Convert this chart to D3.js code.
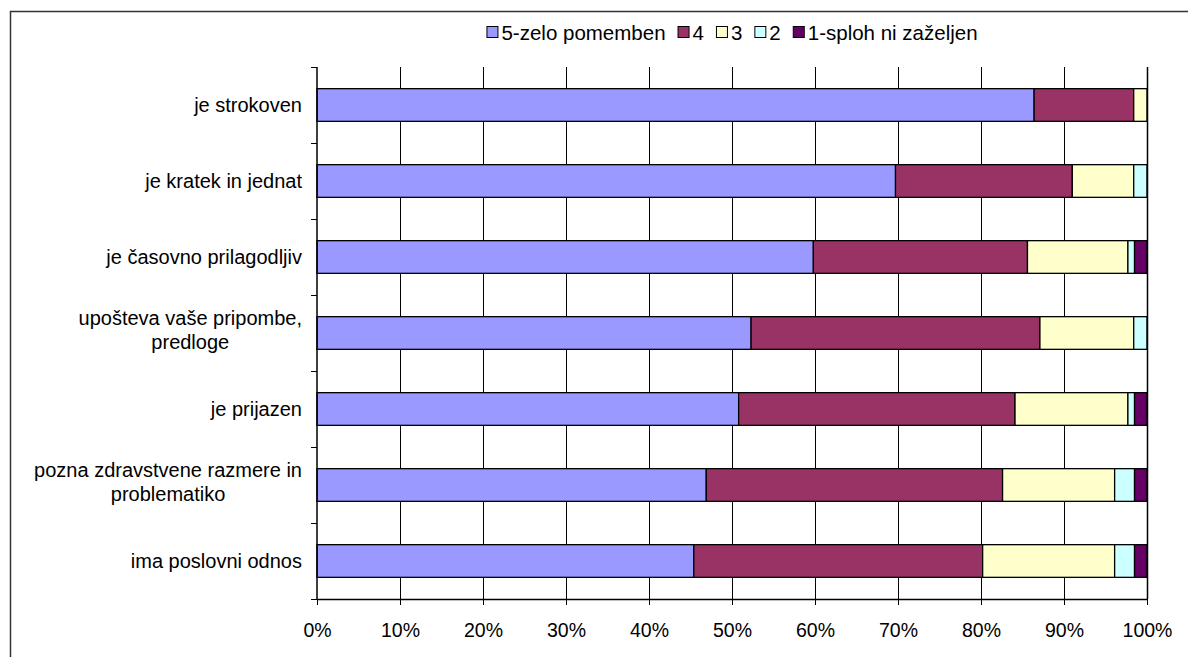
<!DOCTYPE html>
<html>
<head>
<meta charset="utf-8">
<script src="https://cdn.jsdelivr.net/npm/d3@7"></script>
<style>
  html, body { margin: 0; padding: 0; background: #fff; }
  svg { display: block; font-family: "Liberation Sans", Arial, sans-serif; }
</style>
</head>
<body>
<svg id="chart" width="1188" height="657"></svg>
<script>
// Categories, top to bottom
const categories = [
  "je strokoven",
  "je kratek in jednat",
  "je časovno prilagodljiv",
  "upošteva vaše pripombe,\npredloge",
  "je prijazen",
  "pozna zdravstvene razmere in\nproblematiko",
  "ima poslovni odnos"
];

// Series (share of answers, %)
const seriesNames = ["5-zelo pomemben", "4", "3", "2", "1-sploh ni zaželjen"];
const s5 = [86.4, 69.7, 59.8, 52.3, 50.8, 46.9, 45.4];
const s4 = [12.0, 21.3, 25.8, 34.8, 33.3, 35.7, 34.8];
const s3 = [1.6, 7.4, 12.1, 11.3, 13.6, 13.5, 15.9];
const s2 = [0.0, 1.6, 0.8, 1.6, 0.8, 2.4, 2.4];
const s1 = [0.0, 0.0, 1.5, 0.0, 1.5, 1.5, 1.5];
const seriesColors = ["#9999FF", "#993366", "#FFFFCC", "#CCFFFF", "#660066"];

const xTicks = [0, 10, 20, 30, 40, 50, 60, 70, 80, 90, 100];

const rows = categories.map((c, i) => ({
  cat: c, "0": s5[i], "1": s4[i], "2": s3[i], "3": s2[i], "4": s1[i]
}));
const keys = ["0", "1", "2", "3", "4"];

const svg = d3.select("#chart");

// outer chart frame (runs past the right/bottom edge)
svg.append("rect")
  .attr("x", 10.5).attr("y", 11.5)
  .attr("width", 1300).attr("height", 800)
  .attr("fill", "#fff").attr("stroke", "#333").attr("stroke-width", 1.5);

const plot = { left: 317, right: 1147, top: 67, bottom: 599 };

const x = d3.scaleLinear().domain([0, 100]).range([plot.left, plot.right]);
const y = d3.scaleBand().domain(categories).range([plot.top, plot.bottom])
  .paddingInner(0.57).paddingOuter(0.285);
const band = d3.scaleBand().domain(categories).range([plot.top, plot.bottom]);

// vertical gridlines
svg.append("g").selectAll("line")
  .data(xTicks.filter(t => t > 0 && t < 100))
  .join("line")
  .attr("x1", d => Math.round(x(d)) + 0.5).attr("x2", d => Math.round(x(d)) + 0.5)
  .attr("y1", plot.top).attr("y2", plot.bottom)
  .attr("stroke", "#000").attr("stroke-width", 1);

// stacked bars
const stacked = d3.stack().keys(keys)(rows);
const layers = svg.append("g").selectAll("g")
  .data(stacked).join("g")
  .attr("fill", (d, i) => seriesColors[i]);
layers.selectAll("rect")
  .data(d => d.filter(p => p[1] - p[0] > 0))
  .join("rect")
  .attr("x", d => x(d[0]))
  .attr("width", d => x(d[1]) - x(d[0]))
  .attr("y", d => y(d.data.cat))
  .attr("height", y.bandwidth())
  .attr("stroke", "#000").attr("stroke-width", 1.3);

// right plot border
svg.append("line")
  .attr("x1", plot.right + 0.5).attr("x2", plot.right + 0.5)
  .attr("y1", plot.top).attr("y2", plot.bottom)
  .attr("stroke", "#000").attr("stroke-width", 1.5);

// x axis
const xAxis = d3.axisBottom(x).tickValues(xTicks).tickFormat(d => d + "%")
  .tickSize(6).tickSizeOuter(0);
const gx = svg.append("g").attr("transform", `translate(0,${plot.bottom})`).call(xAxis);
gx.select(".domain").attr("stroke", "#000").attr("stroke-width", 1.5);
gx.selectAll(".tick line").attr("stroke", "#000");
gx.selectAll(".tick text")
  .attr("y", 24).attr("fill", "#000")
  .style("font-size", "19.5px").style("font-family", "'Liberation Sans', Arial, sans-serif");

// y axis: line and ticks at category boundaries
svg.append("line")
  .attr("x1", plot.left).attr("x2", plot.left)
  .attr("y1", plot.top).attr("y2", plot.bottom)
  .attr("stroke", "#000").attr("stroke-width", 1.5);
const boundaries = categories.map(c => band(c)).concat([plot.bottom]);
svg.append("g").selectAll("line")
  .data(boundaries).join("line")
  .attr("x1", plot.left - 6).attr("x2", plot.left)
  .attr("y1", d => Math.round(d) + 0.5).attr("y2", d => Math.round(d) + 0.5)
  .attr("stroke", "#000");

// category labels: block right-aligned, lines centered within the block
const labelRight = 302;
const lineH = 24;
categories.forEach(c => {
  const lines = c.split("\n");
  const t = svg.append("text")
    .attr("fill", "#000").style("font-size", "20px")
    .attr("text-anchor", "middle");
  const cy = y(c) + y.bandwidth() / 2;
  lines.forEach((ln, i) => {
    t.append("tspan").text(ln)
      .attr("dy", i === 0 ? 0 : lineH);
  });
  const widths = [];
  t.selectAll("tspan").each(function () { widths.push(this.getComputedTextLength()); });
  const maxW = d3.max(widths);
  const cx = labelRight - maxW / 2;
  const lift = lines.length > 1 ? 3 : 0;
  const y0 = cy + 7 - (lines.length - 1) * lineH / 2 - lift;
  t.selectAll("tspan").attr("x", cx);
  t.select("tspan").attr("y", y0);
});

// legend, centered over the plot area
const legend = svg.append("g");
let lx = 0;
const legendFont = 20.5;
const itemGap = 12;
seriesNames.forEach((name, i) => {
  const item = legend.append("g").attr("transform", `translate(${lx},0)`);
  item.append("rect")
    .attr("x", 0.5).attr("y", -5.5).attr("width", 11).attr("height", 11)
    .attr("fill", seriesColors[i]).attr("stroke", "#000").attr("stroke-width", 1);
  const txt = item.append("text")
    .attr("x", 15).attr("y", 7.5)
    .attr("fill", "#000").style("font-size", legendFont + "px")
    .text(name);
  lx += 15 + txt.node().getComputedTextLength() + itemGap;
});
const legendW = lx - itemGap;
legend.attr("transform", `translate(${(plot.left + plot.right) / 2 - legendW / 2},32)`);
</script>
</body>
</html>
